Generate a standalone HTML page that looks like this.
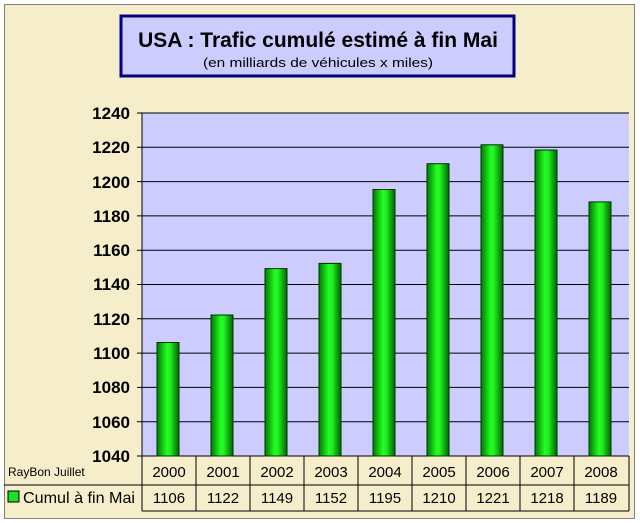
<!DOCTYPE html>
<html><head><meta charset="utf-8"><style>
body{margin:0;background:#fff;}
svg{display:block;font-family:"Liberation Sans",Arial,sans-serif;}
</style></head><body>
<svg width="640" height="523" xmlns="http://www.w3.org/2000/svg">
<defs>
<linearGradient id="g" x1="0" x2="1" y1="0" y2="0">
<stop offset="0" stop-color="#007a00"/>
<stop offset="0.45" stop-color="#22ff22"/>
<stop offset="0.6" stop-color="#22ee22"/>
<stop offset="1" stop-color="#006600"/>
</linearGradient>
</defs>
<rect x="0" y="0" width="640" height="523" fill="#fff"/>
<rect x="4.5" y="4.5" width="630" height="514" fill="#f6eecb" stroke="#808080" stroke-width="1"/>
<rect x="121" y="16" width="393" height="60" fill="#ccccff" stroke="#000080" stroke-width="3"/>
<text x="318" y="47" text-anchor="middle" font-size="21" font-weight="bold" fill="#000">USA : Trafic cumulé estimé à fin Mai</text>
<text x="318" y="67" text-anchor="middle" font-size="13" fill="#000" textLength="230" lengthAdjust="spacingAndGlyphs">(en milliards de véhicules x miles)</text>
<rect x="142" y="113" width="487" height="343" fill="#ccccff"/>
<g stroke="#000" stroke-width="1">
<line x1="137" y1="113" x2="629" y2="113"/>
<line x1="137" y1="147.3" x2="629" y2="147.3"/>
<line x1="137" y1="181.6" x2="629" y2="181.6"/>
<line x1="137" y1="215.9" x2="629" y2="215.9"/>
<line x1="137" y1="250.2" x2="629" y2="250.2"/>
<line x1="137" y1="284.5" x2="629" y2="284.5"/>
<line x1="137" y1="318.8" x2="629" y2="318.8"/>
<line x1="137" y1="353.1" x2="629" y2="353.1"/>
<line x1="137" y1="387.4" x2="629" y2="387.4"/>
<line x1="137" y1="421.7" x2="629" y2="421.7"/>
<line x1="137" y1="456" x2="629" y2="456"/>
<line x1="142" y1="113" x2="142" y2="511"/>
</g>
<g font-size="17" font-weight="bold" text-anchor="end" fill="#000">
<text x="130" y="119">1240</text>
<text x="130" y="153">1220</text>
<text x="130" y="188">1200</text>
<text x="130" y="222">1180</text>
<text x="130" y="256">1160</text>
<text x="130" y="290">1140</text>
<text x="130" y="325">1120</text>
<text x="130" y="359">1100</text>
<text x="130" y="393">1080</text>
<text x="130" y="428">1060</text>
<text x="130" y="462">1040</text>
</g>
<g fill="url(#g)" stroke="#003300" stroke-width="1">
<rect x="157" y="342.5" width="22" height="113.5"/>
<rect x="211" y="315" width="22" height="141"/>
<rect x="265" y="268.6" width="22" height="187.4"/>
<rect x="319" y="263.4" width="22" height="192.6"/>
<rect x="373" y="189.5" width="22" height="266.5"/>
<rect x="427" y="163.7" width="22" height="292.3"/>
<rect x="481" y="144.8" width="22" height="311.2"/>
<rect x="535" y="150" width="22" height="306"/>
<rect x="589" y="201.9" width="22" height="254.1"/>
</g>
<g stroke="#000" stroke-width="1">
<line x1="142" y1="485" x2="629" y2="485"/>
<line x1="4" y1="485" x2="142" y2="485"/>
<line x1="142" y1="511" x2="629" y2="511"/>
<line x1="629" y1="456" x2="629" y2="511"/>
<line x1="196" y1="456" x2="196" y2="511"/>
<line x1="250" y1="456" x2="250" y2="511"/>
<line x1="304" y1="456" x2="304" y2="511"/>
<line x1="358" y1="456" x2="358" y2="511"/>
<line x1="412" y1="456" x2="412" y2="511"/>
<line x1="466" y1="456" x2="466" y2="511"/>
<line x1="520" y1="456" x2="520" y2="511"/>
<line x1="574" y1="456" x2="574" y2="511"/>
</g>
<text x="8" y="476" font-size="12" fill="#000">RayBon Juillet</text>
<rect x="8" y="491" width="11" height="11" fill="#22dd22" stroke="#000"/>
<text x="23" y="503" font-size="16" fill="#000" textLength="112" lengthAdjust="spacingAndGlyphs">Cumul à fin Mai</text>
<g font-size="15" text-anchor="middle" fill="#000">
<text x="169" y="477">2000</text><text x="223" y="477">2001</text><text x="277" y="477">2002</text>
<text x="331" y="477">2003</text><text x="385" y="477">2004</text><text x="439" y="477">2005</text>
<text x="493" y="477">2006</text><text x="547" y="477">2007</text><text x="601" y="477">2008</text>
<text x="169" y="503">1106</text><text x="223" y="503">1122</text><text x="277" y="503">1149</text>
<text x="331" y="503">1152</text><text x="385" y="503">1195</text><text x="439" y="503">1210</text>
<text x="493" y="503">1221</text><text x="547" y="503">1218</text><text x="601" y="503">1189</text>
</g>
</svg>
</body></html>
